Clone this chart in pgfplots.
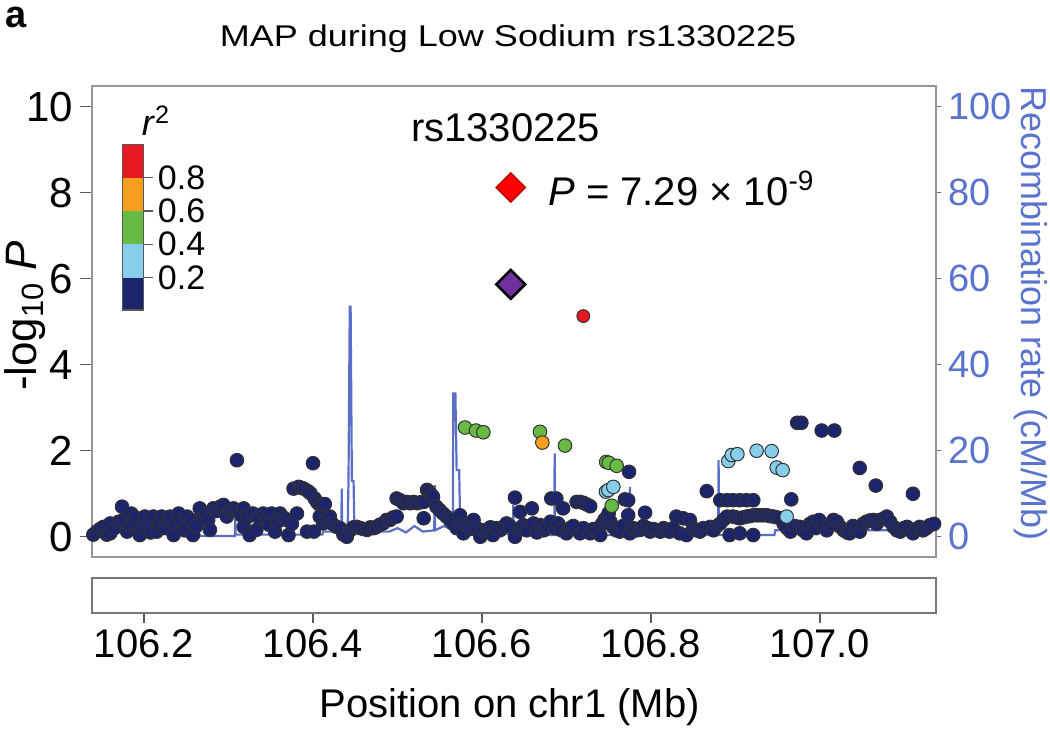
\documentclass[border=0pt]{standalone}
\usepackage{fontspec}
\setmainfont{Liberation Sans}
\usepackage{pgfplots}
\usepackage{pgfplotstable}
\pgfplotsset{compat=1.18}
\definecolor{navy}{RGB}{28,36,107}
\definecolor{ltblue}{RGB}{135,206,235}
\definecolor{ldgreen}{RGB}{103,186,67}
\definecolor{ldorange}{RGB}{247,160,32}
\definecolor{ldred}{RGB}{230,25,35}
\definecolor{leadpurple}{RGB}{112,48,160}
\definecolor{recomb}{RGB}{90,110,200}
\definecolor{recomblab}{RGB}{90,115,205}
\definecolor{boxgray}{RGB}{150,150,150}
\definecolor{edge}{RGB}{50,50,50}

\pgfplotstableread{
pos r
106.138 1.0
106.200 1.2
106.265 1.2
106.266 0.2
106.3075 0.2
106.308 4.3
106.3085 0.5
106.411 0.5
106.412 1.2
106.4335 1.2
106.434 11.2
106.4345 1.2
106.441 1.2
106.442 13.0
106.4435 53.5
106.4445 53.5
106.446 13.0
106.448 13.0
106.449 1.2
106.490 1.2
106.500 2.0
106.510 1.0
106.520 2.5
106.530 1.2
106.5435 1.5
106.544 12.0
106.5445 1.5
106.555 2.5
106.5655 1.5
106.566 33.3
106.5685 33.3
106.570 15.5
106.573 15.5
106.574 4.0
106.578 1.5
106.620 0.8
106.6365 0.5
106.637 7.4
106.6375 0.5
106.6855 0.4
106.686 19.4
106.6865 0.4
106.7745 0.4
106.775 11.6
106.7755 0.4
106.8795 0.4
106.880 17.8
106.8805 0.4
106.946 0.4
106.947 1.5
107.137 1.5
}\recombtable

\pgfplotstableread{
pos p
106.140 0.05
106.144 0.12
106.148 0.18
106.152 0.23
106.156 0.05
106.160 0.31
106.160 0.08
106.165 0.20
106.170 0.35
106.174 0.70
106.176 0.39
106.180 0.12
106.183 0.28
106.185 0.54
106.187 0.31
106.190 0.45
106.195 0.04
106.198 0.25
106.201 0.47
106.205 0.30
106.208 0.10
106.211 0.47
106.215 0.12
106.218 0.33
106.221 0.47
106.225 0.20
106.228 0.40
106.231 0.47
106.235 0.04
106.238 0.28
106.241 0.54
106.245 0.35
106.248 0.15
106.251 0.47
106.256 0.39
106.258 0.04
106.262 0.25
106.266 0.66
106.270 0.45
106.273 0.55
106.276 0.39
106.278 0.16
106.282 0.66
106.286 0.60
106.290 0.70
106.294 0.74
106.298 0.47
106.302 0.62
106.306 0.66
106.310 1.78
106.312 0.60
106.315 0.50
106.318 0.66
106.318 0.23
106.322 0.45
106.325 0.04
106.329 0.54
106.333 0.16
106.336 0.45
106.341 0.54
106.345 0.40
106.348 0.28
106.351 0.54
106.355 0.12
106.358 0.35
106.361 0.54
106.365 0.45
106.369 0.39
106.371 0.04
106.375 0.30
106.377 1.12
106.381 0.54
106.383 1.16
106.386 1.14
106.389 1.12
106.393 0.12
106.394 1.06
106.397 1.01
106.400 1.71
106.401 0.12
106.402 0.89
106.405 0.80
106.408 0.74
106.408 0.47
106.411 0.76
106.412 0.31
106.414 0.76
106.416 0.40
106.420 0.47
106.423 0.30
106.428 0.23
106.432 0.20
106.436 0.05
106.440 0.00
106.444 0.15
106.448 0.22
106.452 0.23
106.456 0.20
106.460 0.18
106.464 0.16
106.468 0.22
106.472 0.20
106.475 0.23
106.479 0.28
106.483 0.31
106.487 0.39
106.491 0.39
106.495 0.45
106.499 0.47
106.499 0.89
106.503 0.85
106.507 0.78
106.511 0.81
106.515 0.78
106.519 0.81
106.523 0.78
106.527 0.80
106.531 0.81
106.531 0.43
106.535 1.09
106.537 1.05
106.540 0.98
106.542 0.93
106.546 0.70
106.550 0.62
106.554 0.54
106.558 0.47
106.562 0.39
106.566 0.30
106.570 0.20
106.574 0.50
106.576 0.30
106.578 0.08
106.582 0.25
106.586 0.18
106.590 0.39
106.594 0.20
106.598 0.00
106.602 0.15
106.606 0.16
106.610 0.22
106.613 0.04
106.617 0.20
106.621 0.15
106.625 0.23
106.629 0.31
106.633 0.25
106.639 0.91
106.639 0.00
106.645 0.58
106.645 0.20
106.649 0.27
106.653 0.15
106.659 0.66
106.661 0.31
106.665 0.10
106.669 0.27
106.673 0.15
106.677 0.25
106.681 0.35
106.682 0.89
106.686 0.20
106.688 0.89
106.690 0.31
106.694 0.15
106.696 0.66
106.700 0.08
106.704 0.20
106.708 0.25
106.712 0.81
106.716 0.81
106.716 0.08
106.720 0.79
106.720 0.20
106.724 0.75
106.728 0.71
106.728 0.08
106.732 0.18
106.736 0.12
106.740 0.04
106.742 0.30
106.745 0.40
106.748 0.47
106.750 0.55
106.752 0.35
106.755 0.23
106.759 0.15
106.763 0.12
106.767 0.25
106.769 0.87
106.773 0.85
106.773 0.50
106.774 1.51
106.775 0.08
106.779 0.20
106.783 0.15
106.787 0.16
106.791 0.25
106.793 0.56
106.796 0.20
106.799 0.12
106.803 0.18
106.807 0.15
106.811 0.12
106.815 0.20
106.818 0.15
106.822 0.12
106.826 0.20
106.830 0.47
106.834 0.08
106.838 0.43
106.842 0.04
106.846 0.39
106.850 0.20
106.854 0.15
106.858 0.12
106.862 0.20
106.866 1.06
106.870 0.23
106.874 0.15
106.878 0.25
106.882 0.31
106.882 0.85
106.886 0.40
106.890 0.47
106.890 0.85
106.893 0.04
106.897 0.47
106.897 0.85
106.901 0.45
106.905 0.43
106.905 0.85
106.905 0.08
106.909 0.45
106.913 0.47
106.913 0.85
106.917 0.48
106.921 0.50
106.921 0.85
106.921 0.04
106.925 0.50
106.929 0.50
106.933 0.50
106.937 0.50
106.941 0.48
106.945 0.47
106.949 0.45
106.953 0.43
106.957 0.30
106.961 0.20
106.965 0.12
106.966 0.87
106.970 0.25
106.973 2.65
106.976 0.23
106.978 2.65
106.980 0.15
106.984 0.08
106.988 0.30
106.992 0.35
106.995 0.20
106.999 0.39
107.002 2.47
107.004 0.25
107.008 0.15
107.012 0.30
107.016 0.39
107.017 2.47
107.020 0.35
107.024 0.23
107.028 0.15
107.032 0.10
107.035 0.08
107.039 0.25
107.043 0.18
107.047 0.12
107.047 1.60
107.051 0.30
107.055 0.35
107.059 0.38
107.063 0.39
107.066 1.19
107.067 0.30
107.071 0.39
107.075 0.42
107.079 0.47
107.083 0.35
107.087 0.23
107.091 0.15
107.095 0.12
107.099 0.20
107.103 0.23
107.107 0.15
107.110 0.08
107.110 1.00
107.114 0.18
107.118 0.23
107.122 0.15
107.126 0.20
107.130 0.27
107.135 0.30
}\navytable

\pgfplotstableread{
pos p
106.7467 1.05
106.7495 1.085
106.7554 1.16
106.8915 1.76
106.8955 1.90
106.9022 1.92
106.9250 2.00
106.9428 1.99
106.9487 1.61
106.9558 1.55
106.9605 0.47
}\bluetable

\pgfplotstableread{
pos p
106.5799 2.54
106.5929 2.47
106.6016 2.43
106.6686 2.44
106.6982 2.12
106.7470 1.74
106.7500 1.72
106.7594 1.65
106.7535 0.72
}\greentable

\begin{document}
\begin{tikzpicture}
\useasboundingbox (-46pt,-87pt) rectangle (479pt,278.5pt);

% recombination rate (right axis)
\begin{axis}[
  at={(0,0)}, anchor=south west, scale only axis,
  width=422pt, height=235.5pt,
  xmin=106.13846, xmax=107.13728, ymin=-4.7, ymax=104.81,
  axis y line*=right, axis x line=none,
  ytick={0,20,40,60,80,100},
  tick align=outside, major tick length=2.5pt,
  axis line style={recomb, line width=0.6pt},
  ytick style={recomb, line width=0.6pt},
  yticklabel style={text=recomblab, font=\fontsize{19}{22}\selectfont},
  /pgf/number format/assume math mode=true,
]
\addplot[recomb, line width=1.1pt] table[x=pos, y=r] {\recombtable};
\end{axis}

% main association plot
\begin{axis}[
  at={(0,0)}, anchor=south west, scale only axis,
  width=422pt, height=235.5pt,
  xmin=106.13846, xmax=107.13728, ymin=-0.47, ymax=10.48,
  xtick=\empty, ytick={0,2,4,6,8,10}, ytick pos=left,
  tick align=outside, major tick length=6pt,
  axis line style={boxgray, line width=0.6pt},
  ytick style={boxgray!60!black, line width=0.6pt},
  yticklabel style={font=\fontsize{21}{24}\selectfont},
  /pgf/number format/assume math mode=true,
  clip mode=individual,
]
\addplot[only marks, mark=*, mark size=3.4pt,
  mark options={fill=navy, draw=edge, line width=0.5pt}] table[x=pos, y=p] {\navytable};
\addplot[only marks, mark=*, mark size=3.4pt,
  mark options={fill=ltblue, draw=edge, line width=0.5pt}] table[x=pos, y=p] {\bluetable};
\addplot[only marks, mark=*, mark size=3.4pt,
  mark options={fill=ldgreen, draw=edge, line width=0.5pt}] table[x=pos, y=p] {\greentable};
\addplot[only marks, mark=*, mark size=3.4pt,
  mark options={fill=ldorange, draw=edge, line width=0.5pt}] coordinates {(106.6714,2.19)};
\addplot[only marks, mark=*, mark size=3.2pt,
  mark options={fill=ldred, draw=edge, line width=0.5pt}] coordinates {(106.7199,5.13)};
\addplot[only marks, mark=square*, mark size=5.1pt,
  mark options={fill=leadpurple, draw=black, line width=1.3pt, rotate=45}] coordinates {(106.634,5.87)};
\addplot[only marks, mark=square*, mark size=5.1pt,
  mark options={fill=red, draw=red!75!black, line width=0.8pt, rotate=45}] coordinates {(106.634,8.12)};

% annotations
\node[anchor=base, font=\fontsize{20}{24}\selectfont] at (axis cs:106.628,9.18) {rs1330225};
\node[anchor=base west, font=\fontsize{20}{24}\selectfont, inner sep=0pt] at (axis cs:106.678,7.71) {\textit{P} = 7.29 × 10\textsuperscript{-9}};

% r^2 colour key
\fill[ldred] (axis cs:106.1743,9.126) rectangle (axis cs:106.1992,8.349);
\fill[ldorange] (axis cs:106.1743,8.349) rectangle (axis cs:106.1992,7.574);
\fill[ldgreen] (axis cs:106.1743,7.574) rectangle (axis cs:106.1992,6.800);
\fill[ltblue] (axis cs:106.1743,6.800) rectangle (axis cs:106.1992,6.023);
\fill[navy] (axis cs:106.1743,6.023) rectangle (axis cs:106.1992,5.272);
\draw[gray!70!black, line width=0.7pt] (axis cs:106.1743,9.126) rectangle (axis cs:106.1992,5.272);
\draw[gray!70!black, line width=0.7pt] (axis cs:106.1992,8.349) -- (axis cs:106.2110,8.349);
\draw[gray!70!black, line width=0.7pt] (axis cs:106.1992,7.574) -- (axis cs:106.2110,7.574);
\draw[gray!70!black, line width=0.7pt] (axis cs:106.1992,6.800) -- (axis cs:106.2110,6.800);
\draw[gray!70!black, line width=0.7pt] (axis cs:106.1992,6.023) -- (axis cs:106.2110,6.023);
\node[anchor=west, inner sep=0pt, font=\fontsize{17}{19}\selectfont] at (axis cs:106.2160,8.349) {0.8};
\node[anchor=west, inner sep=0pt, font=\fontsize{17}{19}\selectfont] at (axis cs:106.2160,7.574) {0.6};
\node[anchor=west, inner sep=0pt, font=\fontsize{17}{19}\selectfont] at (axis cs:106.2160,6.800) {0.4};
\node[anchor=west, inner sep=0pt, font=\fontsize{17}{19}\selectfont] at (axis cs:106.2160,6.023) {0.2};
\node[anchor=base, font=\fontsize{18}{21}\selectfont] at (axis cs:106.2142,9.32) {\textit{r}\textsuperscript{2}};

% labels and title
\node[rotate=90, anchor=center, font=\fontsize{22}{26}\selectfont] at (axis description cs:-0.0794,0.512) {-log\textsubscript{10} \textit{P}};
\node[rotate=-90, anchor=center, text=recomblab, font=\fontsize{18}{22}\selectfont] at (axis description cs:1.112,0.516) {Recombination rate (cM/Mb)};
\node[anchor=base, xscale=1.2, font=\fontsize{15}{18}\selectfont] at (axis description cs:0.493,1.084) {MAP during Low Sodium rs1330225};
\node[anchor=base west, inner sep=0pt, font=\fontsize{19}{22}\selectfont\bfseries] at (axis description cs:-0.103,1.125) {a};
\end{axis}

% gene track
\begin{axis}[
  at={(0,-28pt)}, anchor=south west, scale only axis,
  width=422pt, height=17.5pt,
  xmin=106.13846, xmax=107.13728, ymin=0, ymax=1,
  ytick=\empty, xtick={106.2,106.4,106.6,106.8,107.0},
  xticklabels={106.2,106.4,106.6,106.8,107.0},
  xtick pos=bottom, tick align=outside, major tick length=5pt,
  axis line style={boxgray!80!black, line width=0.6pt},
  xtick style={boxgray!60!black, line width=0.6pt},
  xticklabel style={font=\fontsize{20}{24}\selectfont},
  clip mode=individual,
]
\node[anchor=base, font=\fontsize{20}{24}\selectfont] at (axis description cs:0.495,-3.0) {Position on chr1 (Mb)};
\end{axis}
\end{tikzpicture}
\end{document}
